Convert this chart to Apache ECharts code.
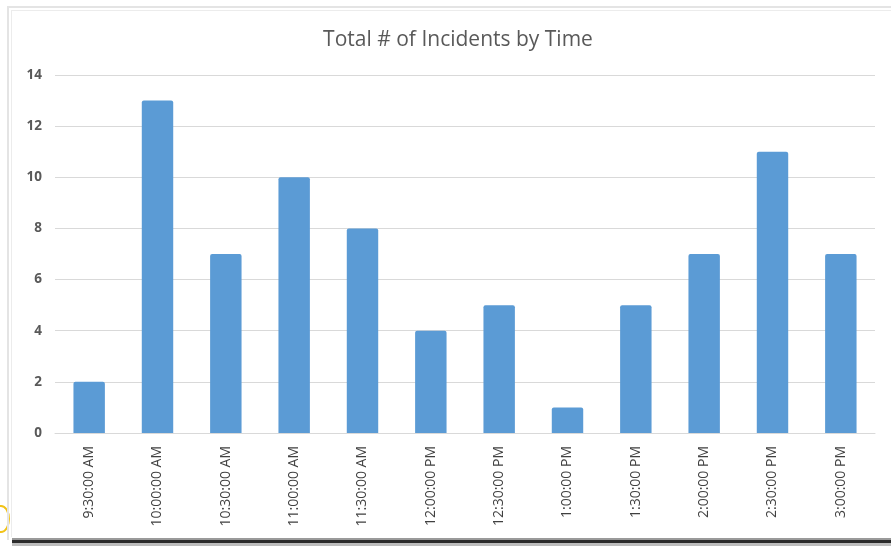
<!DOCTYPE html>
<html>
<head>
<meta charset="utf-8">
<script src="https://cdn.jsdelivr.net/npm/echarts@6/dist/echarts.min.js"></script>
<style>
  html, body { margin: 0; padding: 0; background: #ffffff; }
  #page { position: relative; width: 891px; height: 546px; overflow: hidden; background: #ffffff; }
  #frameOuter { position: absolute; left: 7px; top: 6px; width: 900px; height: 532px; border-left: 2px solid #e4e4e4; border-top: 2px solid #e4e4e4; }
  #frameInner { position: absolute; left: 11px; top: 10px; width: 900px; height: 526px; border-left: 1px solid #ececec; border-top: 1px solid #ececec; }
  #shadow { position: absolute; left: 12px; top: 538px; width: 880px; height: 2px; background: #9a9a9a; }
  #shadow2 { position: absolute; left: 12px; top: 540px; width: 880px; height: 3px; background: #2b2b2b; }
  #shadow3 { position: absolute; left: 12px; top: 543px; width: 880px; height: 3px; background: #bdbdbd; }
  #arc { position: absolute; left: -8px; top: 505px; width: 14px; height: 24px; border: 2px solid #f2c318; border-radius: 50%; }
  #chart { position: absolute; left: 0; top: 0; width: 891px; height: 546px; }
</style>
</head>
<body>
<div id="page">
  <div id="arc"></div>
  <div id="frameOuter"></div>
  <div id="frameInner"></div>
  <div id="shadow"></div>
  <div id="shadow2"></div>
  <div id="shadow3"></div>
  <div id="chart"></div>
</div>
<script>
// Incident counts per half-hour slot
const timeSlots = ['9:30:00 AM', '10:00:00 AM', '10:30:00 AM', '11:00:00 AM', '11:30:00 AM',
  '12:00:00 PM', '12:30:00 PM', '1:00:00 PM', '1:30:00 PM', '2:00:00 PM', '2:30:00 PM', '3:00:00 PM'];
const incidentCounts = [2, 13, 7, 10, 8, 4, 5, 1, 5, 7, 11, 7];
const yTicks = [0, 2, 4, 6, 8, 10, 12, 14];

const chart = echarts.init(document.getElementById('chart'), null, { renderer: 'canvas' });
chart.setOption({
  animation: false,
  title: {
    text: 'Total # of Incidents by Time',
    left: 453,
    textAlign: 'center',
    top: 25,
    textStyle: { fontFamily: 'Open Sans', fontSize: 21, fontWeight: 'normal', color: '#595959' }
  },
  grid: { left: 55, right: 16, top: 75, bottom: 113, containLabel: false },
  xAxis: {
    type: 'category',
    data: timeSlots,
    axisLine: { lineStyle: { color: '#d9d9d9', width: 1 } },
    axisTick: { show: false },
    axisLabel: {
      rotate: 90,
      margin: 13,
      interval: 0,
      fontFamily: 'Open Sans',
      fontSize: 14,
      color: '#404040'
    }
  },
  yAxis: {
    type: 'value',
    min: yTicks[0],
    max: yTicks[yTicks.length - 1],
    interval: 2,
    axisLine: { show: false },
    axisTick: { show: false },
    splitLine: { lineStyle: { color: '#d9d9d9', width: 1 } },
    axisLabel: {
      margin: 13,
      fontFamily: 'Open Sans',
      fontSize: 13.5,
      fontWeight: 'bold',
      color: '#595959'
    }
  },
  series: [{
    type: 'bar',
    data: incidentCounts,
    barWidth: '46%',
    itemStyle: { color: '#5b9bd5', borderRadius: [2, 2, 0, 0] }
  }]
});
</script>
</body>
</html>
